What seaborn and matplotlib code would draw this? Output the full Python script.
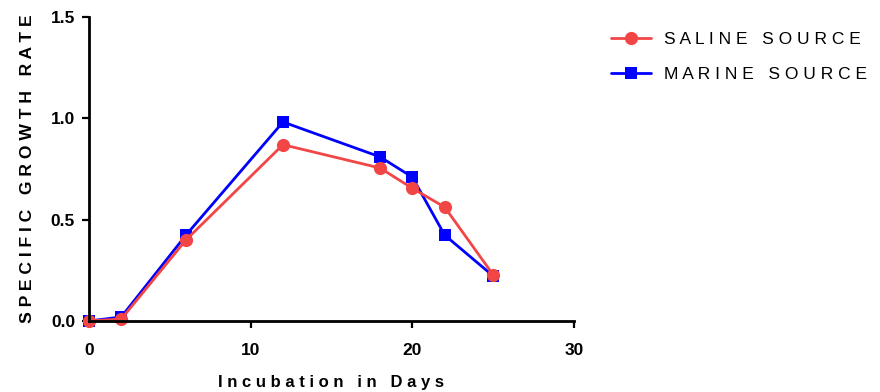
import matplotlib
matplotlib.use("Agg")
import matplotlib.pyplot as plt
from matplotlib.lines import Line2D
import seaborn as sns
import pandas as pd

days = [0, 2, 6, 12, 18, 20, 22, 25]
saline = [0.0, 0.01, 0.40, 0.87, 0.755, 0.655, 0.562, 0.228]
marine = [0.0, 0.02, 0.424, 0.982, 0.81, 0.71, 0.424, 0.222]
series_names = ["SALINE SOURCE", "MARINE SOURCE"]
colors = ["#f24646", "#0000ff"]
markers = ["o", "s"]


def spaced(s):
    # fake letter spacing
    return " ".join(s)


sns.set_style("ticks")
plt.rcParams["font.family"] = ["Liberation Sans", "DejaVu Sans"]
plt.rcParams["text.color"] = "black"
plt.rcParams["axes.labelcolor"] = "black"
plt.rcParams["xtick.color"] = "black"
plt.rcParams["ytick.color"] = "black"

fig = plt.figure(figsize=(8.8, 3.92), dpi=100)
ax = fig.add_axes([0.1011, 0.1811, 0.5512, 0.7755])

df_sal = pd.DataFrame({"day": days, "rate": saline})
df_mar = pd.DataFrame({"day": days, "rate": marine})

# marine first so saline sits on top
sns.lineplot(data=df_mar, x="day", y="rate", ax=ax, color=colors[1], marker=markers[1],
             markersize=8.5, markeredgewidth=0, linewidth=2.0, legend=False)
sns.lineplot(data=df_sal, x="day", y="rate", ax=ax, color=colors[0], marker=markers[0],
             markersize=9.5, markeredgewidth=0, linewidth=2.0, legend=False)

ax.set_xlim(0, 30)
ax.set_ylim(0, 1.5)
ax.set_xticks([0, 10, 20, 30])
ax.set_yticks([0.0, 0.5, 1.0, 1.5])
ax.set_yticklabels(["0.0", "0.5", "1.0", "1.5"])
ax.tick_params(direction="out", length=5, width=1.6, colors="black", labelsize=12.5)
ax.tick_params(axis="y", pad=5)
ax.tick_params(axis="x", pad=11)
plt.setp(ax.get_xticklabels() + ax.get_yticklabels(), fontweight="bold")
for s in ["left", "bottom"]:
    ax.spines[s].set_linewidth(2.0)
    ax.spines[s].set_color("black")
sns.despine(ax=ax)
for line in ax.lines:
    line.set_clip_on(False)

ax.set_xlabel(spaced("Incubation in Days"), fontsize=12, fontweight="bold", labelpad=12)
ax.set_ylabel(spaced("SPECIFIC GROWTH RATE"), fontsize=12.6, fontweight="bold", labelpad=11)

handles = [
    Line2D([], [], color=colors[0], marker=markers[0], markersize=9.5, markeredgewidth=0, linewidth=2.0),
    Line2D([], [], color=colors[1], marker=markers[1], markersize=8.5, markeredgewidth=0, linewidth=2.0),
]
fig.legend(handles, [spaced(n) for n in series_names], loc="upper left",
           bbox_to_anchor=(0.677, 0.958), frameon=False, fontsize=12.5,
           handlelength=2.3, handletextpad=0.75, labelspacing=1.15)

fig.savefig("out.png", dpi=100)
